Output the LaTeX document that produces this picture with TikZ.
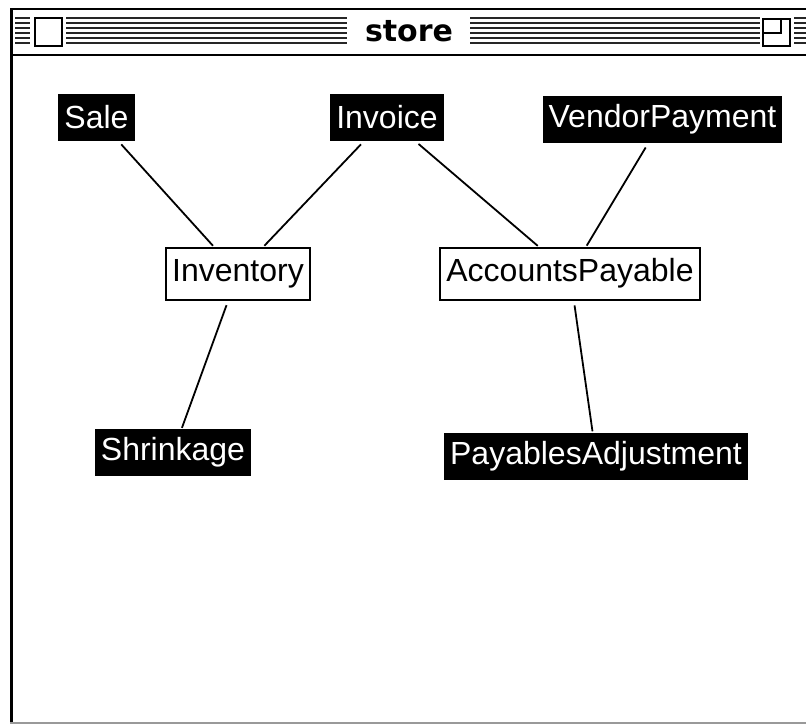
\documentclass[tikz,border=0pt]{standalone}
\usepackage{fontspec}
\setmainfont{Liberation Sans}
\newfontfamily\titlefont{DejaVu Sans}
\usepackage{tikz}
\usepackage{xcolor}

\begin{document}
\begin{tikzpicture}[x=1pt, y=-1pt, font=\fontsize{32}{38}\selectfont]
  % Style definitions
  \tikzstyle{entity} = [rectangle, fill=black, text=white, minimum height=47pt, inner xsep=6pt, inner ysep=0pt]
  \tikzstyle{account} = [rectangle, draw=black, line width=2pt, fill=white, minimum height=52pt, inner xsep=6pt, inner ysep=0pt]
  \tikzstyle{link} = [line width=1.8pt, shorten <=5pt, shorten >=1pt]
  \tikzstyle{stripe} = [line width=2pt, draw=black!85]
  \tikzstyle{winbox} = [line width=2.5pt, draw=black, fill=white]

  \useasboundingbox (0,0) rectangle (806,726);

  % Window frame
  \fill[white] (10,9) rectangle (806,723);
  \draw[line width=2pt] (10,9) -- (806,9);
  \draw[line width=2.5pt] (10,55) -- (806,55);
  \draw[line width=3pt] (11.5,9) -- (11.5,723);
  \draw[line width=2pt, black!40] (10,723) -- (806,723);

  % Title bar
  \foreach \y in {18,23,...,43} {
    \draw[stripe] (15,\y) -- (30,\y);
    \draw[stripe] (66,\y) -- (347,\y);
    \draw[stripe] (470,\y) -- (760,\y);
    \draw[stripe] (794,\y) -- (806,\y);
  }
  \draw[winbox] (35,18) rectangle (62,46);
  \draw[winbox] (763,19) rectangle (790,46);
  \draw[line width=2.5pt] (763,33) -- (781,33) -- (781,19);
  \node (title) at (409,31) {\titlefont\bfseries\fontsize{30}{30}\selectfont store};

  % Entities
  \node (sale) [entity] at (96.5,117) {Sale};
  \node (invoice) [entity] at (387,117) {Invoice};
  \node (vendor) [entity] at (662.5,119.5) {VendorPayment};
  \node (inventory) [account] at (238,273.5) {Inventory};
  \node (payable) [account] at (570,273.5) {AccountsPayable};
  \node (shrink) [entity] at (173,452.5) {Shrinkage};
  \node (adjust) [entity] at (596,456) {PayablesAdjustment};

  % Links
  \draw[link] (sale) -- (inventory);
  \draw[link] (invoice) -- (inventory);
  \draw[link] (invoice) -- (payable);
  \draw[link] (vendor) -- (payable);
  \draw[link] (inventory) -- (shrink);
  \draw[link] (payable) -- (adjust);
\end{tikzpicture}
\end{document}
